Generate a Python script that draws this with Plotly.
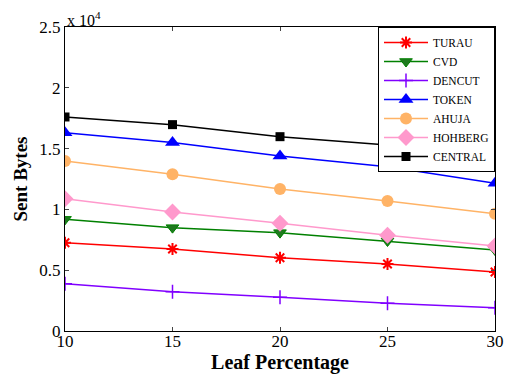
import plotly.graph_objects as go

leaf = [10, 15, 20, 25, 30]
turau = [7260, 6740, 6030, 5510, 4850]
cvd = [9180, 8500, 8090, 7400, 6660]
dencut = [3890, 3230, 2770, 2280, 1920]
token = [16300, 15500, 14400, 13500, 12150]
ahuja = [13980, 12900, 11680, 10700, 9650]
hohberg = [10880, 9790, 8860, 7870, 6990]
central = [17600, 16970, 15980, 15300, 14330]

ytick_vals = [0, 5000, 10000, 15000, 20000, 25000]
ytick_text = ["0", "0.5", "1", "1.5", "2", "2.5"]
xtick_vals = [10, 15, 20, 25, 30]

series = [
    ("TURAU", turau, "#FF0000", dict(symbol="asterisk-open", size=10, line=dict(width=2, color="#FF0000"))),
    ("CVD", cvd, "#008000", dict(symbol="triangle-down", size=11, color="#1f7a1f", line=dict(width=1, color="#008000"))),
    ("DENCUT", dencut, "#8000FF", dict(symbol="cross-thin-open", size=10, line=dict(width=1.5, color="#8000FF"))),
    ("TOKEN", token, "#0000FF", dict(symbol="triangle-up", size=13, color="#0000FF")),
    ("AHUJA", ahuja, "#FFB366", dict(symbol="circle", size=12, color="#FFB366")),
    ("HOHBERG", hohberg, "#FF99CC", dict(symbol="diamond", size=13, color="#FF99CC")),
    ("CENTRAL", central, "#000000", dict(symbol="square", size=9, color="#000000")),
]

fig = go.Figure()
for name, vals, col, mk in series:
    fig.add_trace(go.Scatter(x=leaf, y=vals, name=name, mode="lines+markers",
                             line=dict(color=col, width=1.5), marker=mk))

font = "Liberation Serif, Times New Roman, serif"
fig.update_layout(
    width=510, height=378,
    margin=dict(l=65, r=15, t=27, b=47, autoexpand=False),
    paper_bgcolor="white", plot_bgcolor="white",
    font=dict(family=font, color="black", size=17),
    showlegend=True,
    legend=dict(x=1, y=1, xanchor="right", yanchor="top",
                bordercolor="black", borderwidth=1, bgcolor="white",
                font=dict(size=11.5, family=font, color="black"), tracegroupgap=0,
                itemwidth=44),
    xaxis=dict(range=[10, 30], tickvals=xtick_vals, ticks="inside", ticklen=4,
               tickfont=dict(family=font, size=17, color="black"), automargin=False,
               ticklabelstandoff=-5,
               showline=True, linecolor="black", linewidth=1, mirror="ticks",
               showgrid=False, zeroline=False,
               title=dict(text="<b>Leaf Percentage</b>", font=dict(size=20, family=font), standoff=0)),
    yaxis=dict(range=[0, 25000], tickvals=ytick_vals, ticktext=ytick_text,
               ticks="inside", ticklen=4, automargin=False,
               tickfont=dict(family=font, size=17, color="black"),
               showline=True, linecolor="black", linewidth=1, mirror="ticks",
               showgrid=False, zeroline=False,
               title=dict(text="<b>Sent Bytes</b>", font=dict(size=19, family=font), standoff=6)),
    annotations=[dict(text="x 10<sup>4</sup>", xref="paper", yref="paper", x=0, y=1,
                      xanchor="left", yanchor="bottom", showarrow=False,
                      font=dict(size=16, family=font), yshift=-4)],
)

fig.write_html("out.html")
